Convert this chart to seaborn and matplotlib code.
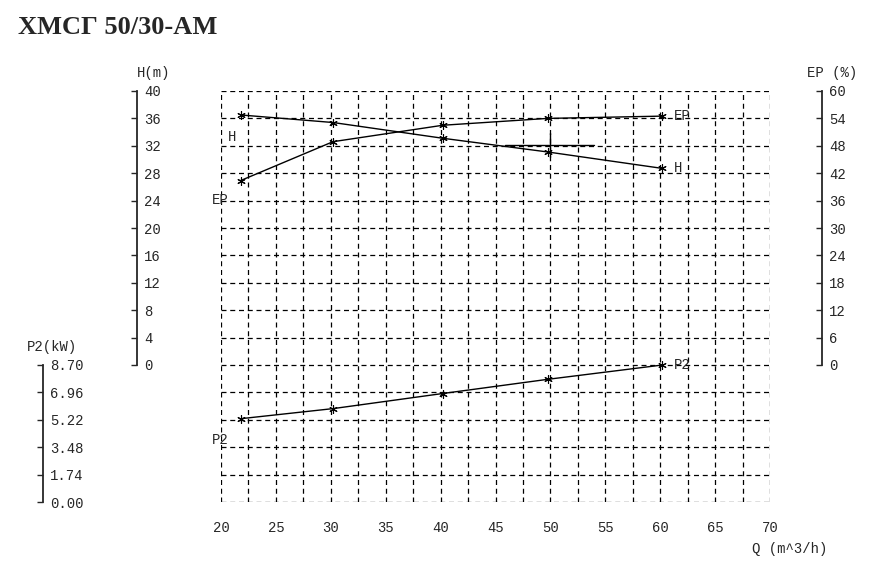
import numpy as np
import matplotlib
matplotlib.use("Agg")
import matplotlib.pyplot as plt
import seaborn as sns

# pump curve data
q = [21.8, 30.2, 40.2, 49.75, 60.2]
head = [36.5, 35.4, 33.1, 31.1, 28.7]
eff = [40.4, 48.9, 52.5, 54.0, 54.5]
power = [5.29, 5.93, 6.89, 7.79, 8.70]

# duty point cross
duty_q = [45.9, 54.0]
duty_h = 32.1
duty_hv = [30.3, 33.9]
duty_qv = 50.0

x_ticks = list(range(20, 71, 5))
h_ticks = list(range(0, 41, 4))
ep_ticks = list(range(0, 61, 6))
p2_ticks = [0.00, 1.74, 3.48, 5.22, 6.96, 8.70]

sns.set_style("white")
plt.rcParams["font.family"] = ["Liberation Mono", "DejaVu Sans"]

W, H = 881, 582
fig = plt.figure(figsize=(W / 100, H / 100), dpi=100)
L, R, T, B = 221, 770, 91, 502
ax = fig.add_axes([L / W, 1 - B / H, (R - L) / W, (B - T) / H])
ax_ep = ax.twinx()
ax_p2 = ax.twinx()

fs = 10
black = "black"
mk = dict(color=black, lw=1, marker=(6, 2, 0), markersize=6,
          markeredgecolor=black, markeredgewidth=0.8)

# grid
ax.set_xlim(20, 70)
ax.set_ylim(-20, 40)
ax.set_xticks(np.arange(20, 70.01, 2.5), minor=True)
ax.set_yticks(np.arange(-20, 40.01, 4), minor=True)
ax.xaxis.remove_overlapping_locs = False
ax.yaxis.remove_overlapping_locs = False
ax.grid(which="minor", color=black, linestyle=(0, (4, 3)), linewidth=0.9)
ax.grid(which="major", visible=False)
ax.tick_params(which="minor", length=0)

# H axis (ticks to the left, labels to the right of a detached line)
ax.set_xticks(x_ticks)
ax.set_yticks(h_ticks)
ax.tick_params(axis="x", length=0, pad=14, labelsize=fs)
ax.yaxis.set_ticks_position("right")
ax.tick_params(axis="y", which="major", direction="in", length=4, width=1,
               pad=5, labelsize=fs, right=True, labelright=True,
               left=False, labelleft=False)
for s in ["top", "left", "bottom"]:
    ax.spines[s].set_visible(False)
ax.spines["right"].set_position(("axes", (137 - L) / (R - L)))
ax.spines["right"].set_bounds(0, 40)
ax.spines["right"].set_linewidth(1.3)

sns.lineplot(x=q, y=head, ax=ax, **mk)
ax.plot(duty_q, [duty_h, duty_h], color=black, lw=1)
ax.plot([duty_qv, duty_qv], duty_hv, color=black, lw=1)
ax.set_xlabel("")
ax.set_ylabel("")

# EP axis
ax_ep.set_ylim(-30, 60)
ax_ep.set_yticks(ep_ticks)
ax_ep.tick_params(axis="y", direction="in", length=4, width=1, pad=5,
                  labelsize=fs)
for s in ["top", "left", "bottom"]:
    ax_ep.spines[s].set_visible(False)
ax_ep.spines["right"].set_position(("axes", (822 - L) / (R - L)))
ax_ep.spines["right"].set_bounds(0, 60)
ax_ep.spines["right"].set_linewidth(1.3)
sns.lineplot(x=q, y=eff, ax=ax_ep, **mk)
ax_ep.set_ylabel("")

# P2 axis
ax_p2.set_ylim(0, 8.70 * 3)
ax_p2.set_yticks(p2_ticks)
ax_p2.set_yticklabels([f"{v:.2f}" for v in p2_ticks])
ax_p2.tick_params(axis="y", direction="in", length=4, width=1, pad=5,
                  labelsize=fs)
for s in ["top", "left", "bottom"]:
    ax_p2.spines[s].set_visible(False)
ax_p2.spines["right"].set_position(("axes", (43 - L) / (R - L)))
ax_p2.spines["right"].set_bounds(0, 8.70)
ax_p2.spines["right"].set_linewidth(1.3)
sns.lineplot(x=q, y=power, ax=ax_p2, **mk)
ax_p2.set_ylabel("")

# curve labels
ax.text(20.6, 33.3, "H", fontsize=fs, va="center", ha="left")
ax.text(19.9, 24.1, "EP", fontsize=fs, va="center", ha="center")
ax.text(19.9, -11.0, "P2", fontsize=fs, va="center", ha="center")
ax.text(q[-1] + 1.0, head[-1], "H", fontsize=fs, va="center", ha="left")
ax_ep.text(q[-1] + 1.0, eff[-1], "EP", fontsize=fs, va="center", ha="left")
ax_p2.text(q[-1] + 1.0, power[-1], "P2", fontsize=fs, va="center", ha="left")

# axis titles
fig.text(137 / W, 1 - 73 / H, "H(m)", fontsize=fs, va="center", ha="left")
fig.text(27 / W, 1 - 347 / H, "P2(kW)", fontsize=fs, va="center", ha="left")
fig.text(807 / W, 1 - 73 / H, "EP (%)", fontsize=fs, va="center", ha="left")
fig.text(752 / W, 1 - 549 / H, "Q (m^3/h)", fontsize=fs, va="center", ha="left")

fig.text(18 / W, 1 - 28 / H, "ХМСГ 50/30-АМ", fontsize=19, fontweight="bold",
         family="Liberation Serif", va="center", ha="left")

fig.savefig("out.png", dpi=100, facecolor="white")
